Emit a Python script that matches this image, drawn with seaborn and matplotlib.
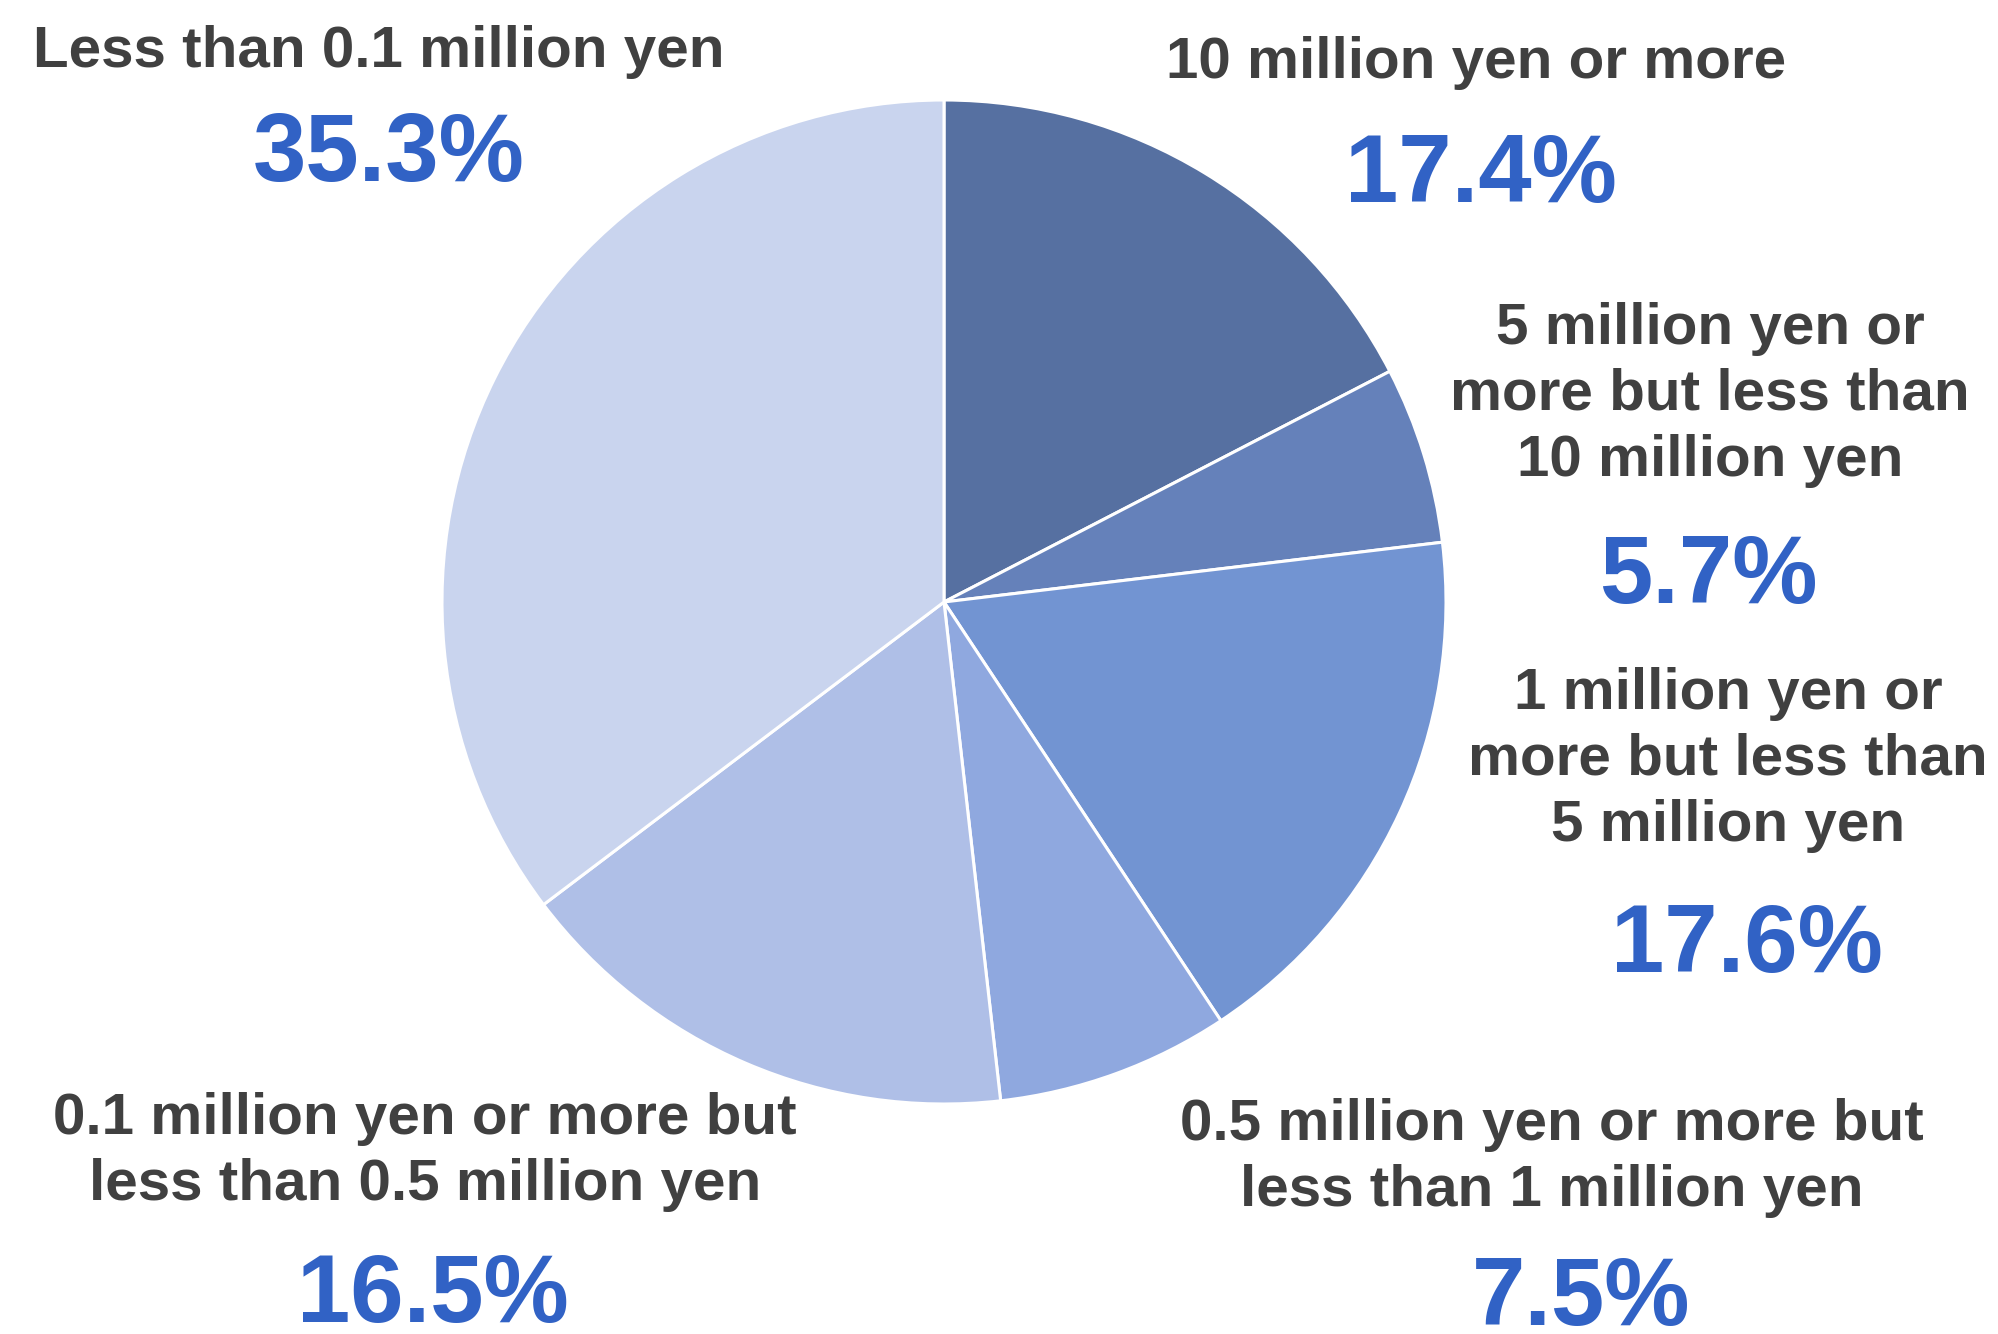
import matplotlib
matplotlib.use("Agg")
import matplotlib.pyplot as plt
import seaborn as sns

# data (clockwise from the top)
categories = [
    "10 million yen or more",
    "5 million yen or\nmore but less than\n10 million yen",
    "1 million yen or\nmore but less than\n5 million yen",
    "0.5 million yen or more but\nless than 1 million yen",
    "0.1 million yen or more but\nless than 0.5 million yen",
    "Less than 0.1 million yen",
]
shares = [17.4, 5.7, 17.6, 7.5, 16.5, 35.3]
slice_colors = ["#5670A1", "#6581BA", "#7294D2", "#8FA8DF", "#AFBFE7", "#C9D4EE"]

# label layout in pixels (x, y from top): category text and percent text
label_pos = [(1476, 63), (1710, 395), (1728, 760), (1552, 1158), (425, 1152), (379, 52)]
pct_pos = [(1481, 177), (1708, 578), (1747, 947), (1581, 1300), (433, 1297), (389, 156)]

W, H = 1999, 1334

sns.set_style("white")
plt.rcParams["font.family"] = ["Liberation Sans", "DejaVu Sans"]

fig = plt.figure(figsize=(W / 100, H / 100), dpi=100)
ax = fig.add_axes([0, 0, 1, 1])

palette = sns.color_palette(slice_colors)
ax.pie(shares, colors=palette, startangle=90, counterclock=False,
       center=(944, H - 602), radius=502,
       wedgeprops=dict(edgecolor="white", linewidth=2.2))

for cat, (x, y) in zip(categories, label_pos):
    ax.text(x, H - y, cat, ha="center", va="center", fontsize=42,
            fontweight="bold", color="#404040", linespacing=1.28)

for val, (x, y) in zip(shares, pct_pos):
    ax.text(x, H - y, f"{val:.1f}%", ha="center", va="center", fontsize=69,
            fontweight="bold", color="#3162C5")

ax.set_xlim(0, W)
ax.set_ylim(0, H)
ax.set_aspect("equal")
ax.axis("off")

fig.savefig("out.png", dpi=100, facecolor="white")
